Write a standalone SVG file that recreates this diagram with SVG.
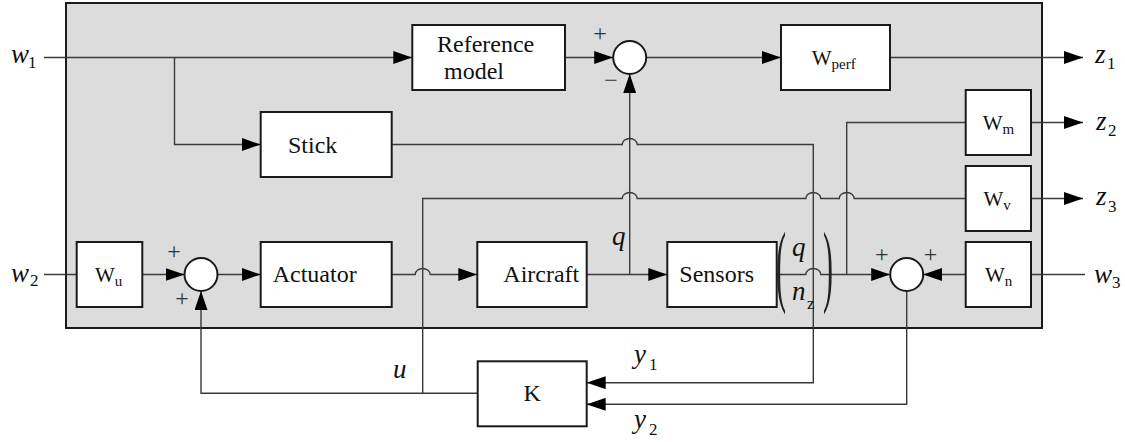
<svg xmlns="http://www.w3.org/2000/svg" width="1125" height="442" viewBox="0 0 1125 442">
<style>
.box{fill:#fff;stroke:#1a1a1a;stroke-width:2}
.sum{fill:#fff;stroke:#1a1a1a;stroke-width:2}
.c{fill:none;stroke:#3a3a3a;stroke-width:1.4}
text{font-family:"Liberation Serif","Times New Roman",serif}
.t{font-size:24px;fill:#111}
.w{font-size:21px;fill:#111}
.ws{font-size:15px}
.i{font-style:italic;font-size:27px;fill:#111}
.s{font-style:normal;font-size:17px}
.sg{font-size:24px;fill:#333;text-anchor:middle}
.p{font-size:30px;fill:#222}
</style>
<defs>
<marker id="arr" viewBox="0 0 19 13" markerWidth="19" markerHeight="13" refX="19" refY="6.5" markerUnits="userSpaceOnUse" orient="auto">
<path d="M0,0 L19,6.5 L0,13 z" fill="#000"/>
</marker>
</defs>
<rect id="frame" x="66" y="3" width="976" height="325" fill="#dcdcdc" stroke="#1a1a1a" stroke-width="2"/>

<g id="connectors">
<path class="c" d="M44,57.5 H412.3" marker-end="url(#arr)"/>
<path class="c" d="M174.5,57.5 V144.5 H260.7" marker-end="url(#arr)"/>
<path class="c" d="M565,57.5 H613.2" marker-end="url(#arr)"/>
<path class="c" d="M646.2,57.5 H781" marker-end="url(#arr)"/>
<path class="c" d="M890,57.5 H1083" marker-end="url(#arr)"/>
<path class="c" d="M1031,122.5 H1083" marker-end="url(#arr)"/>
<path class="c" d="M1031,198.5 H1083" marker-end="url(#arr)"/>
<path class="c" d="M629.7,274.5 V74" marker-end="url(#arr)"/>
<path class="c" d="M391.7,144.5 H622.2 a7.5,6 0 0 1 15,0 H813.3 V382.7 H586.7" marker-end="url(#arr)"/>
<path class="c" d="M422.7,393.3 V198.5 H622.2 a7.5,6 0 0 1 15,0 H805.8 a7.5,6 0 0 1 15,0 H839.2 a7.5,6 0 0 1 15,0 H965.7"/>
<path class="c" d="M477.7,393.3 H201 V291" marker-end="url(#arr)"/>
<path class="c" d="M44,274.5 H76.7"/>
<path class="c" d="M142.3,274.5 H184.5" marker-end="url(#arr)"/>
<path class="c" d="M217.5,274.5 H260.7" marker-end="url(#arr)"/>
<path class="c" d="M391.7,274.5 H415.2 a7.5,6 0 0 1 15,0 H477.3" marker-end="url(#arr)"/>
<path class="c" d="M586.7,274.5 H667.3" marker-end="url(#arr)"/>
<path class="c" d="M776.7,274.5 H805.8 a7.5,6 0 0 1 15,0 H890.2" marker-end="url(#arr)"/>
<path class="c" d="M846.7,274.5 V122.5 H965.7"/>
<path class="c" d="M965.7,274.5 H923.2" marker-end="url(#arr)"/>
<path class="c" d="M1085,274.5 H1031"/>
<path class="c" d="M906.7,291 V404.3 H586.7" marker-end="url(#arr)"/>
</g>

<g id="reference-model">
<rect class="box" x="412.3" y="25" width="152.7" height="65"/>
<text class="t" x="437" y="51.5">Reference</text>
<text class="t" x="444" y="79">model</text>
</g>
<g id="sum1">
<circle class="sum" cx="629.7" cy="57.5" r="16.5"/>
<text class="sg" x="600" y="40.5">+</text>
<text class="sg" x="611" y="88">−</text>
</g>
<g id="w-perf">
<rect class="box" x="781" y="25" width="109" height="65"/>
<text class="w" x="811.7" y="64.5">W<tspan class="ws" y="68.5">perf</tspan></text>
</g>
<g id="stick">
<rect class="box" x="260.7" y="112" width="131" height="65"/>
<text class="t" x="288" y="153">Stick</text>
</g>
<g id="w-m">
<rect class="box" x="965.7" y="90" width="65.3" height="65"/>
<text class="w" x="982.7" y="129.5">W<tspan class="ws" y="133.5">m</tspan></text>
</g>
<g id="w-v">
<rect class="box" x="965.7" y="166" width="65.3" height="65"/>
<text class="w" x="983.5" y="205.5">W<tspan class="ws" y="209.5">v</tspan></text>
</g>
<g id="w-u">
<rect class="box" x="76.7" y="242" width="65.6" height="65"/>
<text class="w" x="95" y="281.5">W<tspan class="ws" y="285.5">u</tspan></text>
</g>
<g id="sum2">
<circle class="sum" cx="201" cy="274.5" r="16.5"/>
<text class="sg" x="174" y="259">+</text>
<text class="sg" x="182" y="306">+</text>
</g>
<g id="actuator">
<rect class="box" x="260.7" y="242" width="131" height="65"/>
<text class="t" x="272.7" y="281.7">Actuator</text>
</g>
<g id="aircraft">
<rect class="box" x="477.3" y="242" width="109.4" height="65"/>
<text class="t" x="503.3" y="281.7">Aircraft</text>
</g>
<g id="sensors">
<rect class="box" x="667.3" y="242" width="109.4" height="65"/>
<text class="t" x="679.3" y="281.7">Sensors</text>
</g>
<g id="sensor-vector">
<text class="p" transform="translate(776,295) scale(1,3)">(</text>
<text class="p" transform="translate(823,295) scale(1,3)">)</text>
<text class="i" x="792" y="256">q</text>
<text class="i" x="792" y="300">n<tspan class="s" x="807" y="309">z</tspan></text>
</g>
<g id="sum3">
<circle class="sum" cx="906.7" cy="274.5" r="16.5"/>
<text class="sg" x="881.7" y="261.5">+</text>
<text class="sg" x="930.5" y="261.5">+</text>
</g>
<g id="w-n">
<rect class="box" x="965.7" y="242" width="65.3" height="65"/>
<text class="w" x="985" y="281.5">W<tspan class="ws" y="285.5">n</tspan></text>
</g>
<g id="k">
<rect class="box" x="477.7" y="361.3" width="109" height="65"/>
<text class="t" x="532.2" y="401" text-anchor="middle">K</text>
</g>

<g id="labels">
<text class="i" x="11" y="63">w<tspan class="s" x="28" y="68">1</tspan></text>
<text class="i" x="11" y="281.5">w<tspan class="s" x="30" y="286">2</tspan></text>
<text class="i" x="1094" y="282.5">w<tspan class="s" x="1112" y="287.5">3</tspan></text>
<text class="i" x="1095" y="63">z<tspan class="s" x="1107" y="68.5">1</tspan></text>
<text class="i" x="1096" y="129.5">z<tspan class="s" x="1108" y="136">2</tspan></text>
<text class="i" x="1096" y="205">z<tspan class="s" x="1108" y="211.5">3</tspan></text>
<text class="i" x="612" y="245">q</text>
<text class="i" x="393" y="378">u</text>
<text class="i" x="634" y="363">y<tspan class="s" x="649" y="370">1</tspan></text>
<text class="i" x="634" y="428">y<tspan class="s" x="649" y="435">2</tspan></text>
</g>
</svg>
